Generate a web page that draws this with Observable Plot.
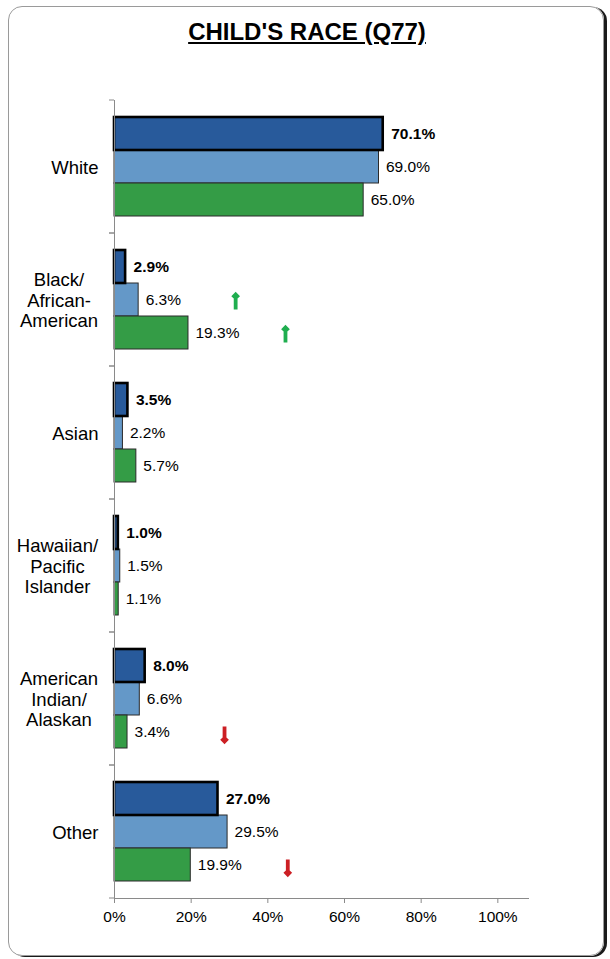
<!DOCTYPE html>
<html>
<head>
<meta charset="utf-8">
<script src="https://cdn.jsdelivr.net/npm/d3@7"></script>
<script src="https://cdn.jsdelivr.net/npm/@observablehq/plot@0.6"></script>
<style>
  html, body { margin: 0; padding: 0; background: #fff; }
  body { width: 610px; height: 959px; position: relative; overflow: hidden; font-family: "Liberation Sans", Arial, sans-serif; }
  #frame { position: absolute; left: 8px; top: 6px; width: 596px; height: 950px; box-sizing: border-box;
           border: 1px solid #9a9a9a; border-radius: 14px; box-shadow: 3px 1px 0 #1a1a1a; }
  #title { position: absolute; left: 0; top: 20px; width: 614px; text-align: center; font-weight: bold;
           font-size: 24px; line-height: 24px; text-decoration: underline; text-underline-offset: 2px; color: #000; }
  #chart { position: absolute; left: 0; top: 0; }
</style>
</head>
<body>
<div id="frame"></div>
<div id="title">CHILD'S RACE (Q77)</div>
<div id="chart"></div>
<script>
// ---- data ----
const categories = ["White", "Black/African-American", "Asian", "Hawaiian/Pacific Islander", "American Indian/Alaskan", "Other"];
const categoryLabels = ["White", "Black/\nAfrican-\nAmerican", "Asian", "Hawaiian/\nPacific\nIslander", "American\nIndian/\nAlaskan", "Other"];
const series = ["Series 1", "Series 2", "Series 3"];
const series1 = [70.1, 2.9, 3.5, 1.0, 8.0, 27.0];
const series2 = [69.0, 6.3, 2.2, 1.5, 6.6, 29.5];
const series3 = [65.0, 19.3, 5.7, 1.1, 3.4, 19.9];
const xTicks = [0, 20, 40, 60, 80, 100];
// significance arrows: category, series, direction
const arrowCats = ["Black/African-American", "Black/African-American", "American Indian/Alaskan", "Other"];
const arrowSeries = ["Series 2", "Series 3", "Series 3", "Series 3"];
const arrowDirs = ["up", "up", "down", "down"];

// ---- build table ----
const seriesValues = [series1, series2, series3];
const rows = categories.flatMap((c, i) => series.map((s, j) => ({category: c, series: s, value: seriesValues[j][i]})));
const valueOf = (c, s) => rows.find(r => r.category === c && r.series === s).value;
const arrows = arrowCats.map((c, i) => ({category: c, series: arrowSeries[i], dir: arrowDirs[i], value: valueOf(c, arrowSeries[i])}));
const labelOf = new Map(categories.map((c, i) => [c, categoryLabels[i]]));

const colors = ["#285A9B", "#6498C8", "#349C46"];
const axisGray = "#8a8a8a";
const fmt = d => d.value.toFixed(1) + "%";

const first = rows.filter(d => d.series === series[0]);
const rest = rows.filter(d => d.series !== series[0]);

const chart = Plot.plot({
  width: 610,
  height: 940,
  marginLeft: 114,
  marginRight: 82,
  marginTop: 97,
  marginBottom: 40,
  style: {fontFamily: "'Liberation Sans', Arial, sans-serif", fontSize: "15.5px", color: "#000", background: "transparent", overflow: "visible"},
  x: {domain: [0, 108], label: null},
  y: {domain: series, paddingInner: 0, paddingOuter: 0.5, axis: null},
  fy: {domain: categories, padding: 0, label: null},
  color: {domain: series, range: colors},
  marks: [
    Plot.barX(rest, {fy: "category", y: "series", x: "value", fill: "series", stroke: "#2a2a2a", strokeWidth: 1}),
    Plot.barX(first, {fy: "category", y: "series", x: "value", fill: "series", stroke: "#000", strokeWidth: 2.6}),
    Plot.frame({anchor: "left", stroke: axisGray}),
    Plot.frame({anchor: "bottom", stroke: axisGray, facetAnchor: "bottom"}),
    (index, scales) => {
      const r = scales.y.range();
      const top = Math.min(...r), bot = Math.max(...r);
      const x0 = scales.x(0);
      const g = d3.create("svg:g").attr("stroke", axisGray);
      for (const yy of [top, bot]) g.append("line").attr("x1", x0 - 5).attr("x2", x0).attr("y1", yy).attr("y2", yy);
      return g.node();
    },
    Plot.text(first, {fy: "category", y: "series", x: "value", text: fmt, dx: 8, textAnchor: "start", fontWeight: "bold", fontSize: 15.5, fill: "#000"}),
    Plot.text(rest, {fy: "category", y: "series", x: "value", text: fmt, dx: 7, textAnchor: "start", fontSize: 15.5, fill: "#000"}),
    Plot.vector(arrows.filter(d => d.dir === "up"), {fy: "category", y: "series", x: "value", dx: 97, dy: 2, rotate: 0, length: 15, shape: "arrow", stroke: "#1fae4f", strokeWidth: 3.8, strokeLinejoin: "miter", strokeLinecap: "butt"}),
    Plot.vector(arrows.filter(d => d.dir === "down"), {fy: "category", y: "series", x: "value", dx: 97, dy: 2, rotate: 180, length: 15, shape: "arrow", stroke: "#cc1f24", strokeWidth: 3.8, strokeLinejoin: "miter", strokeLinecap: "butt"}),
    Plot.axisX({ticks: xTicks, tickFormat: d => d + "%", tickSize: 5, tickPadding: 7, fontSize: 15.5, stroke: axisGray, label: null}),
    Plot.axisFy({anchor: "left", tickSize: 0, tickPadding: 16, fontSize: 18.5, lineHeight: 1.12, tickFormat: d => labelOf.get(d), label: null})
  ]
});
document.getElementById("chart").appendChild(chart);

// center the lines of multi-line category labels within their block
chart.querySelectorAll("g[aria-label='fy-axis tick label'] text").forEach(t => {
  const spans = t.querySelectorAll("tspan");
  if (spans.length < 2) return;
  const w = t.getBBox().width;
  t.setAttribute("text-anchor", "middle");
  spans.forEach(s => s.setAttribute("x", -w / 2));
});
</script>
</body>
</html>
